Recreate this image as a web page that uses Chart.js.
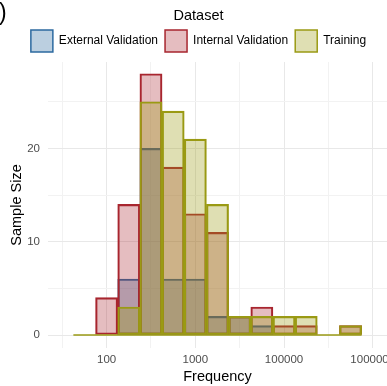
<!DOCTYPE html>
<html>
<head>
<meta charset="utf-8">
<script src="https://cdn.jsdelivr.net/npm/chart.js@4.4.1/dist/chart.umd.min.js"></script>
<style>
  html, body { margin: 0; padding: 0; background: #fff; }
  #wrap { width: 387px; height: 386px; position: relative; }
</style>
</head>
<body>
<div id="wrap"><canvas id="histChart"></canvas></div>
<script>
// bin centres on the log axis (one step = one labelled break)
const binCenters = [-0.25, 0, 0.25, 0.5, 0.75, 1, 1.25, 1.5, 1.75, 2, 2.25, 2.5, 2.75];
const externalCounts = [0, 0, 6, 20, 6, 6, 2, 2, 1, 0, 0, 0, 0];
const internalCounts = [0, 4, 14, 28, 18, 13, 11, 2, 3, 1, 1, 0, 1];
const trainingCounts = [0, 0, 3, 25, 24, 21, 14, 2, 2, 2, 2, 0, 1];

const xTickPos = [-0.5, 0, 0.5, 1, 1.5, 2, 2.5, 3];
const xTickLabels = ["", "100", "", "1000", "", "100000", "", "1000000"];
const yTickPos = [0, 5, 10, 15, 20, 25];
const yTickLabels = ["0", "", "10", "", "20", ""];

const FONT = "'Liberation Sans', Arial, Helvetica, sans-serif";
const extColor = "#2c6aa0";
const intColor = "#a8262f";
const trainColor = "#9a9a14";

function toPoints(counts) {
  return binCenters.map((x, i) => ({ x: x, y: counts[i] }));
}

// ggplot draws empty bins as a flat line on the baseline
const zeroLine = {
  id: "zeroLine",
  afterDatasetsDraw(chart) {
    const { ctx, scales: { x, y } } = chart;
    const half = (binCenters[1] - binCenters[0]) / 2;
    const yPix = y.getPixelForValue(0);
    ctx.save();
    ctx.strokeStyle = trainColor;
    ctx.lineWidth = 1.5;
    ctx.beginPath();
    ctx.moveTo(x.getPixelForValue(binCenters[0] - half), yPix);
    ctx.lineTo(x.getPixelForValue(binCenters[binCenters.length - 1] + half), yPix);
    ctx.stroke();
    ctx.restore();
  }
};

// leftover of the panel tag from the full figure
const panelMark = {
  id: "panelMark",
  afterDraw(chart) {
    const ctx = chart.ctx;
    ctx.save();
    ctx.fillStyle = "#000";
    ctx.font = "23px " + FONT;
    ctx.textBaseline = "alphabetic";
    ctx.fillText(")", -1, 20);
    ctx.restore();
  }
};

const gridColor = (labels) => (c) => (labels[c.index] ? "#e8e8e8" : "#f2f2f2");

new Chart(document.getElementById("histChart"), {
  type: "bar",
  data: {
    datasets: [
      {
        label: "External Validation",
        data: toPoints(externalCounts),
        backgroundColor: "rgba(44,106,160,0.32)",
        borderColor: extColor,
        order: 3
      },
      {
        label: "Internal Validation",
        data: toPoints(internalCounts),
        backgroundColor: "rgba(168,38,47,0.3)",
        borderColor: intColor,
        order: 2
      },
      {
        label: "Training",
        data: toPoints(trainingCounts),
        backgroundColor: "rgba(154,154,20,0.32)",
        borderColor: trainColor,
        order: 1
      }
    ]
  },
  options: {
    responsive: true,
    maintainAspectRatio: false,
    animation: false,
    layout: { padding: { left: 10, right: 0, top: 0, bottom: 0 } },
    datasets: {
      bar: {
        grouped: false,
        barPercentage: 1,
        categoryPercentage: 1,
        borderWidth: 1.5,
        borderSkipped: false
      }
    },
    plugins: {
      tooltip: { enabled: false },
      legend: {
        position: "top",
        align: "center",
        title: {
          display: true,
          text: "Dataset",
          color: "#000",
          font: { family: FONT, size: 14.5, lineHeight: 1.2 },
          padding: { top: 8.3, bottom: -2.7 }
        },
        labels: {
          boxWidth: 22,
          boxHeight: 22,
          padding: 7,
          color: "#000",
          font: { family: FONT, size: 12 },
          sort: (a, b) => a.datasetIndex - b.datasetIndex
        }
      }
    },
    scales: {
      x: {
        type: "linear",
        min: -0.661,
        max: 3.161,
        offset: false,
        border: { display: false },
        grid: { offset: false, drawTicks: false, color: gridColor(xTickLabels), lineWidth: 1 },
        afterBuildTicks: (s) => { s.ticks = xTickPos.map((v) => ({ value: v })); },
        afterFit: (s) => { s.height = 38; s.paddingLeft = 0; s.paddingRight = 0; },
        ticks: {
          autoSkip: false,
          maxRotation: 0,
          padding: 5,
          color: "#4d4d4d",
          font: { family: FONT, size: 11.5 },
          callback: (v, i) => xTickLabels[i]
        },
        title: {
          display: true,
          text: "Frequency",
          color: "#000",
          font: { family: FONT, size: 14.5, lineHeight: 1.2 },
          padding: { top: 0, bottom: 0.3 }
        }
      },
      y: {
        min: -1.393,
        max: 29.26,
        border: { display: false },
        grid: { drawTicks: false, color: gridColor(yTickLabels), lineWidth: 1 },
        afterBuildTicks: (s) => { s.ticks = yTickPos.map((v) => ({ value: v })); },
        afterFit: (s) => { s.width = 38; s.paddingTop = 0; s.paddingBottom = 0; },
        ticks: {
          autoSkip: false,
          padding: 8,
          color: "#4d4d4d",
          font: { family: FONT, size: 11.5 },
          callback: (v, i) => yTickLabels[i]
        },
        title: {
          display: true,
          text: "Sample Size",
          color: "#000",
          font: { family: FONT, size: 14.5, lineHeight: 1.2 },
          padding: { top: -1.7, bottom: 0 }
        }
      }
    }
  },
  plugins: [zeroLine, panelMark]
});
</script>
</body>
</html>
